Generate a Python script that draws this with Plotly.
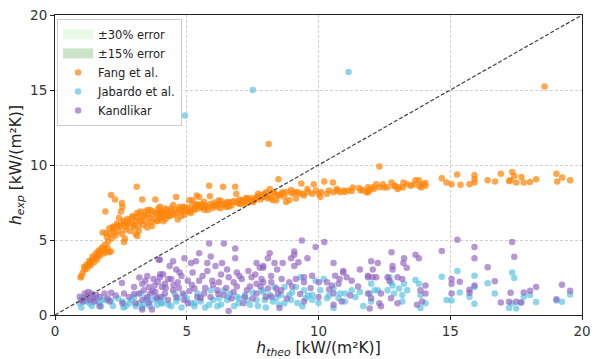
import plotly.graph_objects as go

# ---- Data ----
fang_x = [0.97, 1.0, 1.13, 1.19, 1.26, 1.32, 1.38, 1.44, 1.5, 1.57, 1.63, 1.68, 1.75, 1.87, 1.94, 2.06, 2.12, 2.0,
          1.81, 1.94, 2.06, 2.19, 1.91, 2.13, 2.28, 2.54, 2.56, 3.1, 3.31, 3.81, 2.24, 2.37, 2.5, 2.62, 2.68, 2.74,
          2.8, 2.62, 2.65, 3.06, 3.12, 3.18, 2.99, 2.93, 3.06, 3.24, 3.12, 3.36, 3.43, 3.62, 3.55, 3.8, 3.92, 4.05,
          3.87, 3.68, 3.5, 4.05, 3.24, 2.5, 2.43, 2.24,
          3.98, 4.04, 4.1, 4.17, 4.29, 4.41, 4.48, 4.54, 4.66, 4.73, 4.85, 4.91, 5.04, 5.1, 5.16, 5.29, 5.38, 5.47,
          5.53, 5.66, 5.78, 5.85, 5.88, 5.97, 6.09, 6.22, 6.38, 6.41, 6.53, 6.59, 6.72, 6.84, 6.88, 6.97, 7.09, 7.21,
          7.28, 7.4, 7.53, 7.65, 7.71, 7.84, 7.96, 3.98, 4.6, 5.22, 5.41, 5.66, 6.28, 4.23, 4.79,
          7.9, 8.02, 8.15, 8.27, 8.4, 8.48, 8.52, 8.64, 8.77, 8.89, 8.96, 9.08, 9.14, 9.26, 9.35, 9.45, 9.58, 9.76,
          9.82, 10.01, 10.07, 10.22, 10.32, 10.55, 10.57, 10.7, 10.82, 10.94, 11.13, 11.26, 11.54, 11.69, 11.88,
          8.33, 8.08,
          11.82, 11.94, 12.06, 12.19, 12.31, 12.31, 12.44, 12.62, 12.77, 12.87, 13.0, 13.06, 13.22, 13.35, 13.5,
          13.68, 13.81, 13.81, 13.93, 14.06, 14.68, 14.86, 15.05, 15.26, 15.39, 15.73, 11.88,
          15.92, 15.92, 15.92, 16.42, 16.7, 16.92, 17.23, 17.29, 17.35, 17.43, 17.51, 17.7, 17.79, 18.03, 18.26,
          19.03, 19.06, 19.25, 19.55,
          8.11, 18.58,
          1.05, 1.1, 1.22, 1.3, 1.35, 1.42, 1.48, 1.55, 1.6, 1.65, 1.7, 1.78, 1.85, 1.9, 1.97, 2.02, 2.08, 2.15, 2.2,
          2.3, 2.35, 2.42, 2.47, 2.55, 2.6, 2.7, 2.75, 2.85, 2.9, 2.95, 3.0, 3.1, 3.15, 3.2, 3.28, 3.35, 3.4, 3.47,
          3.52, 3.6, 3.65, 3.7, 3.75, 3.85, 3.9, 3.95, 4.0, 4.12, 4.2, 4.25, 4.35, 4.4, 4.45, 4.55, 4.62, 4.7, 4.8,
          4.88, 4.95, 5.05, 5.12, 5.2, 5.3, 5.35, 5.45, 5.55, 5.6, 5.7, 5.8, 5.9, 6.0, 6.05, 6.15, 6.25, 6.3, 6.45,
          6.5, 6.6, 6.7, 6.8, 6.92, 7.0, 7.05, 7.15, 7.25, 7.3, 7.45, 7.5, 7.6, 7.7, 7.8, 7.85, 8.0, 8.1, 8.2, 8.3,
          8.45, 8.6, 8.7, 8.8, 9.0, 9.2, 9.4, 9.6, 9.9, 10.1, 10.4, 10.7, 11.0, 11.3, 11.6, 12.1, 12.5, 12.9, 13.2,
          13.6, 13.9, 14.05]
fang_y = [2.5, 2.6, 3.04, 3.34, 3.37, 3.47, 3.6, 3.69, 3.8, 3.9, 4.05, 4.18, 4.33, 4.44, 4.2, 4.2, 4.24, 4.48,
          5.5, 5.46, 5.78, 5.72, 6.9, 8.0, 7.7, 7.46, 7.2, 8.55, 7.7, 7.7, 5.5, 5.93, 6.04, 6.16, 5.7, 6.04,
          6.25, 4.87, 5.08, 5.4, 5.27, 5.6, 5.84, 6.5, 6.25, 6.25, 6.8, 6.58, 6.9, 7.0, 6.7, 6.8, 7.1, 6.58,
          6.25, 5.93, 5.84, 6.9, 6.9, 6.9, 6.48, 5.84,
          6.58, 6.9, 6.25, 7.1, 6.58, 6.9, 7.33, 6.69, 6.37, 7.01, 7.22, 6.69, 6.9, 7.65, 6.8, 7.12, 7.97, 7.86,
          7.22, 7.01, 7.22, 8.62, 7.91, 7.12, 7.33, 7.65, 8.55, 7.33, 7.54, 7.22, 7.54, 8.55, 8.08, 7.44, 7.65, 7.44,
          7.76, 7.65, 7.54, 7.86, 8.08, 7.86, 8.08, 7.22, 7.86, 7.65, 7.33, 7.54, 7.12, 6.8, 6.58,
          7.86, 8.19, 8.4, 7.65, 7.65, 9.05, 7.97, 8.19, 7.54, 7.65, 8.34, 8.19, 7.76, 8.08, 8.77, 7.97, 8.4, 8.08,
          8.72, 8.08, 7.86, 8.9, 8.08, 8.83, 8.19, 8.3, 8.19, 8.3, 8.3, 8.26, 8.47, 8.34, 8.19,
          8.08, 7.76,
          8.19, 8.34, 8.51, 8.72, 9.9, 8.51, 8.72, 8.51, 8.83, 8.62, 8.4, 8.51, 8.83, 8.72, 8.62,
          8.98, 8.98, 8.62, 8.72, 8.62, 9.11, 8.83, 8.72, 9.37, 8.68, 8.72, 8.51,
          9.32, 9.05, 8.83, 8.98, 8.9, 9.41, 8.94, 8.98, 9.54, 9.26, 8.83, 9.2, 8.83, 8.87, 9.05,
          9.41, 8.9, 9.16, 8.98,
          11.4, 15.24,
          2.8, 3.2, 3.1, 3.6, 3.3, 3.9, 3.5, 4.1, 3.7, 4.3, 3.95, 4.5, 4.1, 4.7, 5.2, 4.9, 5.4, 5.1, 5.9,
          5.3, 6.1, 5.6, 5.9, 5.4, 6.3, 5.9, 6.4, 5.6, 6.1, 6.6, 6.0, 6.5, 5.9, 6.7, 6.3, 6.0, 6.6, 6.2,
          7.0, 6.5, 6.2, 6.9, 6.4, 6.7, 6.3, 6.9, 6.5, 6.8, 6.4, 7.0, 6.6, 7.1, 6.7, 7.0, 6.8, 7.2, 6.9,
          7.0, 7.2, 7.1, 6.9, 7.3, 7.0, 7.4, 7.1, 7.4, 7.2, 7.3, 7.0, 7.4, 7.3, 7.5, 7.2, 7.4, 7.6, 7.4,
          7.2, 7.5, 7.3, 7.6, 7.5, 7.7, 7.4, 7.6, 7.8, 7.5, 7.8, 7.6, 7.7, 7.9, 7.7, 8.0, 7.9, 8.0, 7.8, 8.2,
          8.0, 8.1, 7.9, 8.2, 8.1, 8.2, 8.1, 8.2, 8.3, 8.2, 8.3, 8.4, 8.2, 8.5, 8.3, 8.4, 8.5, 8.6, 8.5,
          8.7, 8.5, 8.8]

jabardo_x = [0.94, 1.19, 1.32, 1.57, 1.69, 1.75, 1.94, 2.13, 2.56, 2.69, 2.81, 3.06, 3.18, 3.37, 3.43, 3.68, 3.87,
             4.06, 3.25, 3.81,
             4.04, 4.41, 4.66, 4.91, 5.16, 5.41, 5.53, 5.85, 5.91, 6.22, 6.41, 6.53, 6.65, 6.97, 7.21, 7.4, 7.65,
             7.84, 4.54, 5.29, 6.16, 6.9,
             7.9, 7.96, 8.15, 8.33, 8.4, 8.58, 8.71, 8.89, 8.96, 9.14, 9.33, 9.45, 9.51, 9.76, 9.89, 10.07, 10.2,
             10.32, 10.57, 10.76, 10.82, 11.01, 11.26, 11.57, 8.71, 9.39, 9.76, 10.57, 8.27,
             12.0, 11.94, 12.13, 12.25, 12.0, 12.69, 12.75, 12.81, 12.62, 12.87, 13.06, 13.18, 13.25, 13.37, 13.68,
             13.81, 13.87, 14.06, 13.87, 14.68, 14.86, 15.05, 15.27, 15.36, 15.73, 13.18,
             15.92, 15.92, 15.92, 16.42, 16.69, 17.35, 17.43, 17.23, 17.5, 17.66, 17.79, 18.03, 18.26, 19.03, 19.24,
             19.55, 17.33,
             4.93, 7.51, 11.14,
             1.0, 1.1, 1.4, 1.5, 1.8, 2.2, 2.4, 2.6, 2.9, 3.0, 3.3, 3.5, 3.6, 3.9, 4.1, 4.3, 4.6, 4.8, 5.0, 5.3,
             5.5, 5.7, 6.0, 6.3, 6.6, 6.8, 7.0, 7.3, 7.5, 7.7, 8.0, 8.5, 9.0, 9.2, 9.6, 10.0, 10.4, 11.0, 11.4,
             11.7]
jabardo_y = [0.79, 0.9, 0.79, 0.96, 0.79, 0.58, 1.0, 0.96, 0.9, 0.58, 0.79, 0.58, 0.79, 0.69, 1.11, 1.0, 0.69,
             0.79, 1.43, 1.22,
             0.79, 0.58, 1.11, 1.33, 0.79, 1.43, 0.9, 0.69, 1.65, 1.11, 1.65, 1.0, 1.43, 0.79, 1.33, 0.69, 1.0,
             1.65, 1.43, 0.58, 0.58, 1.22,
             1.54, 1.0, 1.33, 1.86, 1.11, 1.33, 1.86, 1.33, 1.0, 1.86, 2.51, 1.65, 1.11, 1.33, 2.29, 1.65, 2.4,
             1.11, 1.76, 1.11, 1.43, 1.43, 1.65, 1.54, 0.79, 0.58, 1.0, 0.47, 0.9,
             2.08, 1.43, 1.65, 1.65, 0.9, 2.51, 2.19, 1.97, 1.65, 1.43, 1.76, 1.33, 2.08, 1.65, 2.34,
             2.08, 1.33, 0.79, 0.47, 2.55, 1.0, 0.96, 2.94, 1.5, 1.22, 0.9,
             2.62, 1.86, 0.75, 2.12, 1.43, 2.83, 2.46, 0.47, 0.43, 0.84, 1.22, 1.33, 0.86, 0.96, 0.88,
             1.37, 0.79,
             13.3, 15.0, 16.2,
             0.5, 1.1, 0.6, 1.2, 1.0, 0.6, 1.1, 0.5, 1.0, 1.2, 0.5, 1.0, 0.6, 1.0, 1.2, 0.7, 0.9, 0.5, 1.1, 0.8,
             1.2, 0.5, 1.0, 0.7, 1.2, 0.6, 1.1, 1.0, 1.5, 0.6, 0.5, 0.7, 1.5, 0.8, 1.3, 0.8, 1.3, 0.9, 1.2,
             0.6]

kandlikar_x = [0.94, 1.13, 1.26, 1.38, 1.44, 1.57, 1.32, 1.07, 1.88, 2.13, 2.54, 2.62, 3.0, 3.18, 3.31, 3.37, 3.43,
               3.56, 3.62, 3.74, 3.78, 3.93, 3.99, 3.87, 3.31, 3.56, 3.06, 2.56, 2.07, 1.69, 3.31, 3.68, 4.06, 3.81,
               3.98, 4.1, 4.17, 4.35, 4.48, 4.6, 4.73, 4.91, 5.16, 5.22, 5.35, 5.47, 5.78, 5.85, 5.91, 6.09, 6.34,
               6.41, 6.53, 6.84, 6.84, 6.9, 7.34, 7.65, 7.77, 7.9, 3.98, 4.41, 4.66, 5.04, 5.47, 5.78, 5.97, 6.22,
               6.59, 6.78, 7.09, 7.46, 7.65, 7.84, 4.17, 4.48, 4.85, 5.29, 5.66, 6.16, 6.41, 6.78, 7.28, 7.65, 4.29,
               5.04, 6.59, 7.15, 5.53,
               7.9, 8.08, 8.15, 8.33, 8.43, 8.64, 8.96, 9.08, 9.08, 9.08, 9.24, 9.58, 9.37, 9.89, 10.22, 10.57, 10.94,
               11.57, 7.9, 8.21, 8.4, 8.89, 9.14, 9.45, 9.76, 10.01, 10.32, 10.51, 10.63, 10.76, 10.94, 11.07, 11.26,
               8.08, 8.58, 9.45, 8.21, 8.46, 9.45, 10.57, 10.88, 8.52, 10.57, 11.88, 11.88,
               12.0, 12.25, 12.06, 12.77, 12.81, 12.81, 13.25, 13.22, 13.35, 13.68, 13.81, 11.88, 12.06, 12.19, 12.62,
               12.69, 13.0, 13.18, 14.06, 13.87, 14.06, 14.68, 15.05, 15.05, 15.36, 15.73, 15.27, 12.0, 12.31, 11.94,
               12.37, 12.75, 13.0, 13.74, 13.93, 12.37, 15.05, 15.73,
               15.92, 15.92, 15.92, 16.42, 16.69, 17.35, 17.43, 17.29, 17.79, 18.03, 18.26, 16.92, 17.23, 17.5, 17.7,
               19.24, 19.55, 19.03,
               1.0, 1.2, 1.5, 1.7, 2.0, 2.3, 2.8, 3.0, 3.2, 3.5, 3.5, 3.7, 3.9, 4.0, 4.2, 4.3, 4.5, 4.6, 4.7, 4.8,
               4.9, 5.1, 5.2, 5.4, 5.6, 5.7, 5.9, 6.0, 6.2, 6.3, 6.5, 6.7, 6.9, 7.0, 7.2, 7.4, 7.5, 7.6, 7.8, 8.0,
               8.2, 8.6, 8.8, 9.0, 9.3, 9.7, 10.0, 10.4, 10.8, 11.2, 11.5]
kandlikar_y = [1.22, 1.43, 1.54, 1.43, 1.11, 1.33, 1.0, 0.9, 1.43, 1.48, 2.14, 1.43, 1.86, 1.43, 2.08, 1.65, 2.29,
               1.86, 1.43, 2.4, 1.97, 3.69, 2.72, 1.11, 1.0, 0.79, 0.79, 0.79, 0.9, 0.58, 0.37, 0.37, 1.86, 1.54,
               3.69, 2.72, 2.08, 3.26, 3.58, 3.04, 2.83, 3.79, 3.47, 2.83, 3.58, 4.12, 3.47, 4.76, 3.9, 3.26, 3.47,
               4.76, 3.04, 4.44, 3.79, 2.83, 2.94, 3.47, 3.15, 3.26, 2.51, 2.4, 2.19, 2.29, 2.29, 2.94, 2.29, 2.19,
               2.51, 2.19, 2.4, 2.51, 2.08, 2.4, 1.43, 1.65, 1.43, 1.76, 1.43, 1.65, 1.33, 1.54, 1.65, 1.43, 1.0,
               0.79, 0.26, 0.79, 1.11,
               3.15, 3.79, 4.12, 3.47, 3.04, 3.47, 3.79, 4.23, 4.01, 3.26, 3.51, 3.79, 4.97, 4.54, 4.86, 3.47, 2.94,
               3.04, 2.19, 2.19, 1.76, 2.19, 2.4, 2.51, 2.62, 2.19, 2.19, 1.97, 2.62, 2.08, 2.83, 2.51, 2.29,
               1.76, 1.65, 2.19, 1.22, 1.43, 0.9, 1.43, 0.9, 0.47, 0.69, 1.43, 2.62,
               3.58, 3.47, 3.04, 4.18, 3.26, 3.04, 3.79, 3.47, 3.15, 4.01, 3.79, 2.51, 2.51, 2.51, 2.51,
               2.29, 2.51, 2.4, 1.97, 1.65, 1.43, 4.27, 2.4, 2.08, 2.22, 1.69, 5.02, 1.11, 0.79, 0.43,
               0.58, 1.11, 0.79, 0.69, 0.9, 1.43, 1.43, 1.48,
               4.54, 3.79, 1.97, 3.19, 2.25, 4.86, 3.88, 1.48, 1.5, 1.61, 1.86, 0.84, 0.88, 0.88, 0.84,
               2.02, 1.61, 1.05,
               1.0, 1.2, 0.9, 1.2, 1.1, 1.3, 1.2, 1.4, 2.5, 2.6, 1.2, 1.6, 2.2, 1.2, 1.8, 2.4, 2.0, 1.2, 1.8, 2.6,
               1.0, 1.6, 2.0, 1.2, 2.6, 1.8, 1.2, 2.0, 1.4, 2.7, 1.8, 1.1, 1.9, 2.6, 1.2, 1.9, 1.1, 2.7, 1.9, 1.2,
               2.6, 2.4, 1.1, 1.9, 1.4, 1.8, 1.2, 1.7, 2.4, 1.3, 1.9]

ticks = [0, 5, 10, 15, 20]
line_x = [0, 20]

FONT = "DejaVu Sans"
fig = go.Figure()

# legend-only error bands (shown as wide swatches)
fig.add_trace(go.Scatter(x=[None], y=[None], mode="lines",
                         line=dict(color="#e6fae6", width=10), name="±30% error"))
fig.add_trace(go.Scatter(x=[None], y=[None], mode="lines",
                         line=dict(color="#c9e4c9", width=10), name="±15% error"))

fig.add_trace(go.Scatter(x=fang_x, y=fang_y, mode="markers", name="Fang et al.",
                         marker=dict(size=6.5, color="rgba(255,133,10,0.72)", line=dict(width=0))))
fig.add_trace(go.Scatter(x=jabardo_x, y=jabardo_y, mode="markers", name="Jabardo et al.",
                         marker=dict(size=6.5, color="rgba(80,190,224,0.65)", line=dict(width=0))))
fig.add_trace(go.Scatter(x=kandlikar_x, y=kandlikar_y, mode="markers", name="Kandlikar",
                         marker=dict(size=6.5, color="rgba(143,95,190,0.65)", line=dict(width=0))))

fig.add_trace(go.Scatter(x=line_x, y=line_x, mode="lines", showlegend=False,
                         line=dict(color="#404040", width=1.2, dash="4px,2px")))

axis_common = dict(range=[0, 20], tickvals=ticks, ticks="outside", ticklen=4, tickcolor="#222",
                   showline=True, linecolor="#222", linewidth=1, mirror=True,
                   showgrid=True, gridcolor="#d0d0d0", griddash="3px,2px", gridwidth=1,
                   zeroline=False, ticklabeloverflow="allow",
                   tickfont=dict(family=FONT, size=13.5, color="#333"))

fig.update_xaxes(**axis_common,
                 title=dict(text="<i>h</i><sub><i>theo</i></sub> [kW/(m²K)]",
                            font=dict(family=FONT, size=15.5, color="#222"), standoff=2))
fig.update_yaxes(**axis_common,
                 title=dict(text="<i>h</i><sub><i>exp</i></sub> [kW/(m²K)]",
                            font=dict(family=FONT, size=15.5, color="#222"), standoff=4))

fig.update_layout(
    width=598, height=359,
    margin=dict(l=55, r=7, t=8, b=40),
    plot_bgcolor="white", paper_bgcolor="white",
    font=dict(family=FONT, color="#222"),
    legend=dict(x=0.004, y=0.987, xanchor="left", yanchor="top",
                bgcolor="rgba(255,255,255,0.85)", bordercolor="#cccccc", borderwidth=1,
                font=dict(family=FONT, size=11.5, color="#222"), tracegroupgap=0,
                itemwidth=30),
)

fig.write_html("out.html")
